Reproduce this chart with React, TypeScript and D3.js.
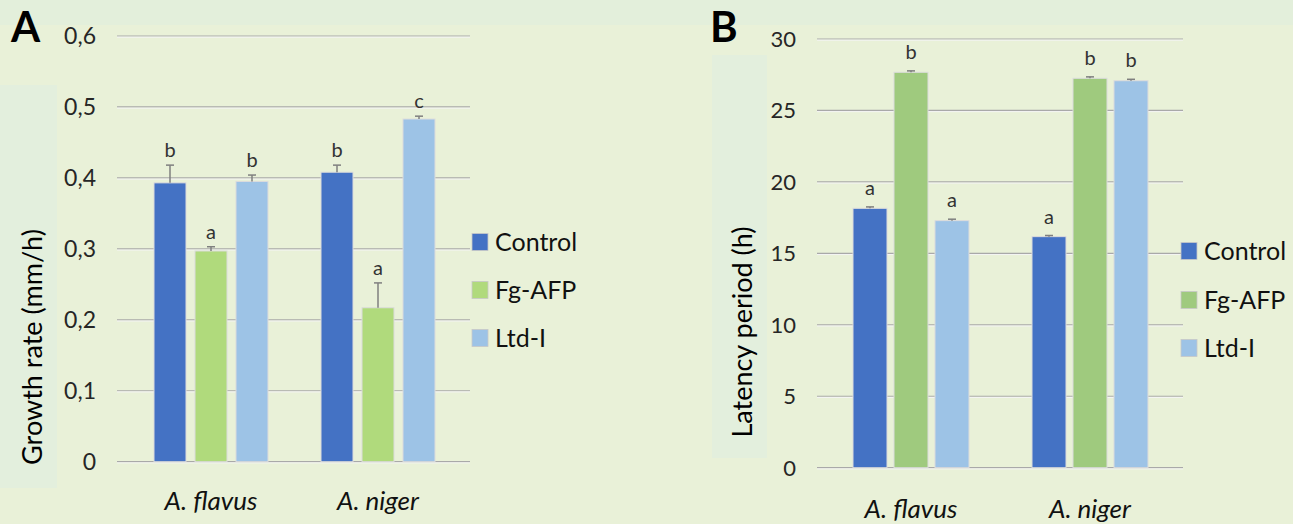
import { scaleBand, scaleLinear } from 'd3'

const width = 1293
const height = 524
const font = 'Lato, "Noto Sans", sans-serif'

const categories = ['A. flavus', 'A. niger']
const series = ['Control', 'Fg-AFP', 'Ltd-I']

// panel A: growth rate (mm/h)
const growthRate = {
  Control: [0.393, 0.408],
  'Fg-AFP': [0.297, 0.217],
  'Ltd-I': [0.395, 0.483],
}
const growthErr = {
  Control: [0.025, 0.01],
  'Fg-AFP': [0.006, 0.035],
  'Ltd-I': [0.009, 0.004],
}
const growthLetters = {
  Control: ['b', 'b'],
  'Fg-AFP': ['a', 'a'],
  'Ltd-I': ['b', 'c'],
}
const growthTicks = [0, 0.1, 0.2, 0.3, 0.4, 0.5, 0.6]

// panel B: latency period (h)
const latency = {
  Control: [18.15, 16.17],
  'Fg-AFP': [27.67, 27.25],
  'Ltd-I': [17.29, 27.08],
}
const latencyErr = {
  Control: [0.1, 0.08],
  'Fg-AFP': [0.1, 0.1],
  'Ltd-I': [0.1, 0.1],
}
const latencyLetters = {
  Control: ['a', 'a'],
  'Fg-AFP': ['b', 'b'],
  'Ltd-I': ['a', 'b'],
}
const latencyTicks = [0, 5, 10, 15, 20, 25, 30]

function Panel({ p }) {
  const y = scaleLinear().domain(p.domain).range(p.yRange)
  const x0 = scaleBand().domain(categories).range(p.xRange)
  const bw = x0.bandwidth()
  const x1 = scaleBand()
    .domain(series)
    .range([(bw - p.groupW) / 2, (bw + p.groupW) / 2])
    .paddingInner(p.pad)
  const [gx0, gx1] = p.gridX

  return (
    <g>
      <rect x={p.titleBg[0]} y={p.titleBg[1]} width={p.titleBg[2]} height={p.titleBg[3]} fill="#e3efdd" />
      <text x={p.letterX} y={42} fontSize={42} fontWeight="bold" fill="#000">
        {p.letter}
      </text>
      {p.ticks.map((t) => (
        <g key={t}>
          <line x1={gx0} x2={gx1} y1={y(t)} y2={y(t)} stroke="#a9a9a9" strokeWidth={1.2} />
          <line x1={gx0} x2={gx1} y1={y(t) + 1.2} y2={y(t) + 1.2} stroke="#f4f4f4" strokeWidth={1} />
          <text
            x={p.tickX}
            y={y(t)}
            dy="0.36em"
            textAnchor="end"
            fontSize={p.tickSize}
            fill="#262626"
          >
            {p.fmt(t)}
          </text>
        </g>
      ))}
      <text
        transform={`translate(${p.titlePos[0]},${p.titlePos[1]}) rotate(-90)`}
        textAnchor="middle"
        dy="0.36em"
        fontSize={27}
        fill="#000"
      >
        {p.title}
      </text>
      {categories.map((c, i) => (
        <g key={c} transform={`translate(${x0(c)},0)`}>
          {series.map((s) => {
            const v = p.values[s][i]
            const e = p.err[s][i]
            const bx = x1(s)
            const w = x1.bandwidth()
            const cx = bx + w / 2
            return (
              <g key={s}>
                <rect
                  x={bx}
                  y={y(v)}
                  width={w}
                  height={y(0) - y(v)}
                  fill={p.colors[s]}
                  stroke="#dcdcdc"
                  strokeWidth={1}
                />
                <line x1={cx} x2={cx} y1={y(v)} y2={y(v + e)} stroke="#7f7f7f" strokeWidth={1.5} />
                <line x1={cx - 4} x2={cx + 4} y1={y(v + e)} y2={y(v + e)} stroke="#7f7f7f" strokeWidth={1.5} />
                <text
                  x={cx}
                  y={y(v + e) - p.letterOff}
                  dy="0.36em"
                  textAnchor="middle"
                  fontSize={20}
                  fill="#333"
                >
                  {p.letters[s][i]}
                </text>
              </g>
            )
          })}
          <text
            x={bw / 2}
            y={p.catY}
            textAnchor="middle"
            fontSize={26}
            fontStyle="italic"
            fill="#111"
          >
            {c}
          </text>
        </g>
      ))}
      {series.map((s, i) => (
        <g key={s} transform={`translate(${p.legendX},${p.legendY[i]})`}>
          <rect x={0} y={-8.5} width={16} height={17} fill={p.colors[s]} stroke="#c8c8c8" strokeWidth={0.8} />
          <text x={23} dy="0.36em" fontSize={25} fill="#111">
            {s}
          </text>
        </g>
      ))}
    </g>
  )
}

const panelA = {
  letter: 'A',
  letterX: 11,
  domain: [0, 0.6],
  yRange: [461.7, 36],
  xRange: [127.5, 461.5],
  groupW: 114,
  pad: 9 / 41,
  gridX: [117, 470],
  ticks: growthTicks,
  tickX: 96,
  tickSize: 23,
  fmt: (t) => (t === 0 ? '0' : t.toFixed(1).replace('.', ',')),
  title: 'Growth rate (mm/h)',
  titlePos: [32, 347],
  titleBg: [0, 85, 57, 403],
  values: growthRate,
  err: growthErr,
  letters: growthLetters,
  letterOff: 15,
  catY: 510,
  colors: { Control: '#4472c4', 'Fg-AFP': '#b0da7c', 'Ltd-I': '#9dc3e6' },
  legendX: 472,
  legendY: [242, 290, 338],
}

const panelB = {
  letter: 'B',
  letterX: 710,
  domain: [0, 30],
  yRange: [467.7, 39],
  xRange: [821.5, 1179.5],
  groupW: 116,
  pad: 7 / 41,
  gridX: [817, 1183],
  ticks: latencyTicks,
  tickX: 796,
  tickSize: 22,
  fmt: (t) => String(t),
  title: 'Latency period (h)',
  titlePos: [742, 332],
  titleBg: [712, 55, 55, 403],
  values: latency,
  err: latencyErr,
  letters: latencyLetters,
  letterOff: 19,
  catY: 518,
  colors: { Control: '#4472c4', 'Fg-AFP': '#9fca7e', 'Ltd-I': '#9dc3e6' },
  legendX: 1181,
  legendY: [251, 300, 348],
}

export default function App() {
  return (
    <svg
      width={width}
      height={height}
      style={{ position: 'absolute', left: 0, top: 0, fontFamily: font }}
    >
      <rect width={width} height={height} fill="#e9f1d8" />
      <rect width={width} height={25} fill="#e3efdb" />
      <Panel p={panelA} />
      <Panel p={panelB} />
    </svg>
  )
}
